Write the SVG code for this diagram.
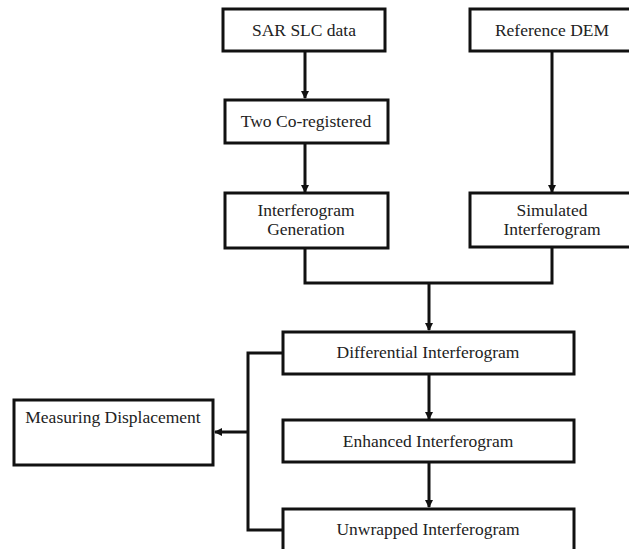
<svg xmlns="http://www.w3.org/2000/svg" width="629" height="549" viewBox="0 0 629 549">
<defs>
<style>
.box{fill:#fff;stroke:#111;stroke-width:3}
.t{font-family:"Liberation Serif",serif;font-size:17.5px;fill:#222;text-anchor:middle}
.c{fill:none;stroke:#111;stroke-width:3}
</style>
<marker id="ah" markerWidth="8" markerHeight="8" refX="7" refY="4" orient="auto" markerUnits="userSpaceOnUse">
<path d="M0,0 L8,4 L0,8 Z" fill="#111"/>
</marker>
</defs>
<rect width="629" height="549" fill="#fff"/>
<g id="connectors">
<path class="c" d="M305,51 V98" marker-end="url(#ah)"/>
<path class="c" d="M305,143 V192" marker-end="url(#ah)"/>
<path class="c" d="M552,51 V192" marker-end="url(#ah)"/>
<path class="c" d="M305,248 V283 H552 V248"/>
<path class="c" d="M429,283 V330" marker-end="url(#ah)"/>
<path class="c" d="M429,374 V419" marker-end="url(#ah)"/>
<path class="c" d="M429,462 V507" marker-end="url(#ah)"/>
<path class="c" d="M283,353 H248 V530 H283"/>
<path class="c" d="M248,432 H215" marker-end="url(#ah)"/>
</g>
<g id="n1"><rect class="box" x="223" y="9" width="162" height="42"/><text class="t" x="304" y="36">SAR SLC data</text></g>
<g id="n2"><rect class="box" x="470" y="9" width="170" height="42"/><text class="t" x="552" y="36">Reference DEM</text></g>
<g id="n3"><rect class="box" x="225" y="100" width="163" height="43"/><text class="t" x="306" y="127">Two Co-registered</text></g>
<g id="n4"><rect class="box" x="225" y="193" width="163" height="55"/><text class="t" x="306" y="216">Interferogram</text><text class="t" x="306" y="235">Generation</text></g>
<g id="n5"><rect class="box" x="470" y="193" width="170" height="54"/><text class="t" x="552" y="216">Simulated</text><text class="t" x="552" y="235">Interferogram</text></g>
<g id="n6"><rect class="box" x="283" y="332" width="291" height="42"/><text class="t" x="428" y="358">Differential Interferogram</text></g>
<g id="n7"><rect class="box" x="283" y="420" width="291" height="42"/><text class="t" x="428" y="447">Enhanced Interferogram</text></g>
<g id="n8"><rect class="box" x="283" y="509" width="291" height="50"/><text class="t" x="428" y="535">Unwrapped Interferogram</text></g>
<g id="n9"><rect class="box" x="14" y="400" width="199" height="65"/><text class="t" x="113" y="423">Measuring Displacement</text></g>
</svg>
